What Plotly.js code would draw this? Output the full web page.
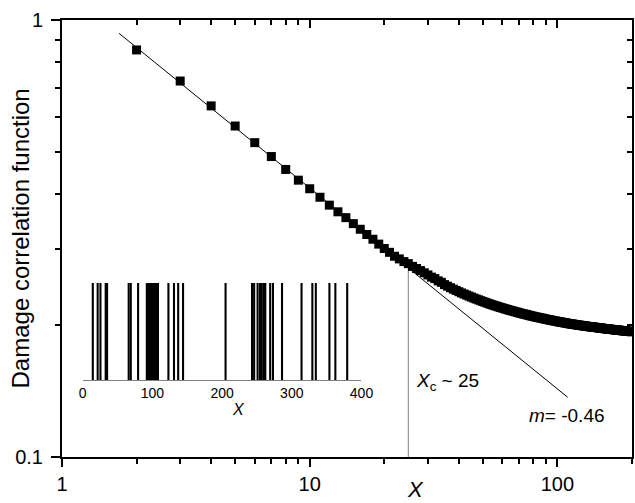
<!DOCTYPE html>
<html><head><meta charset="utf-8">
<script src="https://cdn.plot.ly/plotly-3.0.1.min.js"></script>
<style>html,body{margin:0;padding:0;background:#fff}#chart{width:635px;height:503px}</style>
</head><body><div id="chart"></div>
<script>
// separation X of each marker starts at 2 and rises by 1
const xStart = 2;
const corrValues = [
0.854,0.725,0.636,0.572,0.524,0.487,0.455,0.430,0.411,0.393,
0.377,0.364,0.353,0.342,0.332,0.323,0.315,0.307,0.300,0.294,
0.288,0.284,0.280,0.277,0.273,0.270,0.267,0.264,0.261,0.258,
0.256,0.253,0.251,0.248,0.246,0.244,0.2422,0.2405,0.2389,0.2374,
0.2360,0.2347,0.2334,0.2322,0.2310,0.2299,0.2289,0.2279,0.2269,0.2260,
0.2251,0.2242,0.2234,0.2226,0.2219,0.2212,0.2205,0.2198,0.2192,0.2186,
0.2180,0.2174,0.2168,0.2163,0.2158,0.2153,0.2148,0.2143,0.2138,0.2133,
0.2129,0.2125,0.2121,0.2117,0.2113,0.2109,0.2105,0.2101,0.2098,0.2094,
0.2091,0.2088,0.2085,0.2082,0.2079,0.2076,0.2073,0.2070,0.2067,0.2064,
0.2062,0.2059,0.2057,0.2054,0.2052,0.2049,0.2047,0.2045,0.2042,0.2040,
0.2038,0.2036,0.2034,0.2032,0.2030,0.2028,0.2026,0.2024,0.2022,0.2020,
0.2018,0.2017,0.2015,0.2014,0.2012,0.2011,0.2009,0.2008,0.2006,0.2005,
0.2003,0.2002,0.2001,0.1999,0.1998,0.1997,0.1995,0.1994,0.1993,0.1992,
0.1990,0.1989,0.1988,0.1987,0.1986,0.1985,0.1984,0.1983,0.1982,0.1981,
0.1980,0.1979,0.1978,0.1977,0.1976,0.1975,0.1974,0.1973,0.1972,0.1971,
0.1970,0.1969,0.1968,0.1967,0.1966,0.1966,0.1965,0.1964,0.1963,0.1962,
0.1961,0.1961,0.1960,0.1959,0.1958,0.1957,0.1957,0.1956,0.1955,0.1954,
0.1954,0.1953,0.1952,0.1951,0.1951,0.1950,0.1949,0.1949,0.1948,0.1947,
0.1947,0.1946,0.1945,0.1945,0.1944,0.1943,0.1943,0.1942,0.1941,0.1941,
0.1940,0.1939,0.1939,0.1938,0.1937,0.1937,0.1936,0.1936,0.1935
];
const corrX = corrValues.map((_, i) => xStart + i);

// fitted power-law line (slope m = -0.46) end points
const fitX = [1.7, 110];
const fitY = [0.932, 0.137];
// crossover marker at Xc ~ 25
const xcLineX = [25, 25];
const xcLineY = [0.1, 0.27];

// inset: positions of damaged sites
const damageSites = [14.5,21.5,25.5,33,35,66,69,79.5,
  92,94,96,98,100,102,104,106,108,
  123,131,137,144,205,243,246,251,254.5,257,260,262,269,273,286,
  314,329.5,334.5,354,362.5,379.5];
const siteHeights = damageSites.map(() => 1);

const mainXTicks = [1, 10, 100];
const mainXMinor = [2,3,4,5,6,7,8,9,20,30,40,50,60,70,80,90,200];
const mainYTicks = [0.1, 1];
const mainYMinor = [0.2,0.3,0.4,0.5,0.6,0.7,0.8,0.9];
const insetTicks = [0, 100, 200, 300, 400];

const FONT = 'Liberation Sans, Arial, sans-serif';

const traces = [
  {x: fitX, y: fitY, mode: 'lines', line: {color: '#000', width: 1}, hoverinfo: 'skip', showlegend: false},
  {x: xcLineX, y: xcLineY, mode: 'lines', line: {color: '#808080', width: 1}, hoverinfo: 'skip', showlegend: false},
  {x: corrX, y: corrValues, mode: 'markers', marker: {symbol: 'square', size: 9, color: '#000'}, showlegend: false},
  {x: fitX, y: fitY, xaxis: 'x2', yaxis: 'y2', mode: 'lines', line: {color: 'rgba(0,0,0,0)', width: 0}, hoverinfo: 'skip', showlegend: false},
  {type: 'bar', x: damageSites, y: siteHeights, width: 3, xaxis: 'x3', yaxis: 'y3', marker: {color: '#000', line: {width: 0}}, showlegend: false, hoverinfo: 'x'}
];

const tickCommon = {color: '#000', size: 20, family: FONT};
const xr = [0, Math.log10(200)];
const yr = [-1, 0];

const layout = {
  width: 635, height: 503,
  margin: {l: 62, r: 3, t: 20, b: 46},
  paper_bgcolor: '#fff', plot_bgcolor: '#fff',
  showlegend: false,
  font: {family: FONT, color: '#000'},
  xaxis: {
    type: 'log', range: xr, showgrid: false, zeroline: false,
    showline: true, linecolor: '#000', linewidth: 2, mirror: true,
    tickmode: 'array', tickvals: mainXTicks, ticktext: mainXTicks.map(String),
    ticks: 'outside', ticklen: 8, tickwidth: 2, tickcolor: '#000',
    ticklabelstandoff: 0,
    tickfont: tickCommon,
    minor: {tickmode: 'array', tickvals: mainXMinor, ticks: 'outside', ticklen: 5, tickwidth: 2, tickcolor: '#000', showgrid: false}
  },
  yaxis: {
    type: 'log', range: yr, showgrid: false, zeroline: false,
    showline: true, linecolor: '#000', linewidth: 2, mirror: true,
    tickmode: 'array', tickvals: mainYTicks, ticktext: ['0.1', '1'],
    ticks: 'outside', ticklen: 9, tickwidth: 2, tickcolor: '#000',
    ticklabelstandoff: 4,
    tickfont: tickCommon,
    minor: {tickmode: 'array', tickvals: mainYMinor, ticks: 'outside', ticklen: 5, tickwidth: 2, tickcolor: '#000', showgrid: false}
  },
  xaxis2: {
    type: 'log', range: xr, overlaying: 'x', side: 'top', anchor: 'y2',
    showgrid: false, zeroline: false, showline: false, showticklabels: false,
    tickmode: 'array', tickvals: mainXTicks, ticks: 'inside', ticklen: 8, tickwidth: 2, tickcolor: '#000',
    minor: {tickmode: 'array', tickvals: mainXMinor, ticks: 'inside', ticklen: 5, tickwidth: 2, tickcolor: '#000', showgrid: false}
  },
  yaxis2: {
    type: 'log', range: yr, overlaying: 'y', side: 'right', anchor: 'x2',
    showgrid: false, zeroline: false, showline: false, showticklabels: false,
    tickmode: 'array', tickvals: mainYTicks, ticks: 'inside', ticklen: 8, tickwidth: 2, tickcolor: '#000',
    minor: {tickmode: 'array', tickvals: mainYMinor, ticks: 'inside', ticklen: 5, tickwidth: 2, tickcolor: '#000', showgrid: false}
  },
  xaxis3: {
    domain: [0.0363, 0.5254], anchor: 'y3', range: [0, 400],
    showgrid: false, zeroline: false, showline: true, linecolor: '#808080', linewidth: 1,
    tickmode: 'array', tickvals: insetTicks, ticks: '', ticklen: 0,
    tickfont: {size: 14, color: '#000', family: FONT}
  },
  yaxis3: {
    domain: [0.1762, 0.398], anchor: 'x3', range: [0, 1], visible: false
  },
  annotations: [
    {xref: 'paper', yref: 'paper', x: -0.072, y: 0.5, text: 'Damage correlation function',
     textangle: -90, showarrow: false, font: {size: 24, family: FONT, color: '#000'}, xanchor: 'center', yanchor: 'middle'},
    {xref: 'paper', yref: 'paper', x: (415 - 62) / 570, y: -0.075, text: '<i>X</i>',
     showarrow: false, font: {size: 22, family: FONT, color: '#000'}, xanchor: 'center', yanchor: 'middle'},
    {xref: 'paper', yref: 'paper', x: (238 - 62) / 570, y: (457 - 409) / 437, text: '<i>X</i>',
     showarrow: false, font: {size: 16, family: FONT, color: '#000'}, xanchor: 'center', yanchor: 'middle'},
    {xref: 'paper', yref: 'paper', x: (414 - 62) / 570, y: (457 - 382) / 437, text: '<i>X</i><sub>c</sub> ~ 25',
     showarrow: false, font: {size: 19, family: FONT, color: '#000'}, xanchor: 'left', yanchor: 'middle'},
    {xref: 'paper', yref: 'paper', x: (527 - 62) / 570, y: (457 - 415) / 437, text: '<i>m</i>= -0.46',
     showarrow: false, font: {size: 19, family: FONT, color: '#000'}, xanchor: 'left', yanchor: 'middle'}
  ]
};

Plotly.newPlot('chart', traces, layout, {staticPlot: true, displayModeBar: false});
</script>
</body></html>
